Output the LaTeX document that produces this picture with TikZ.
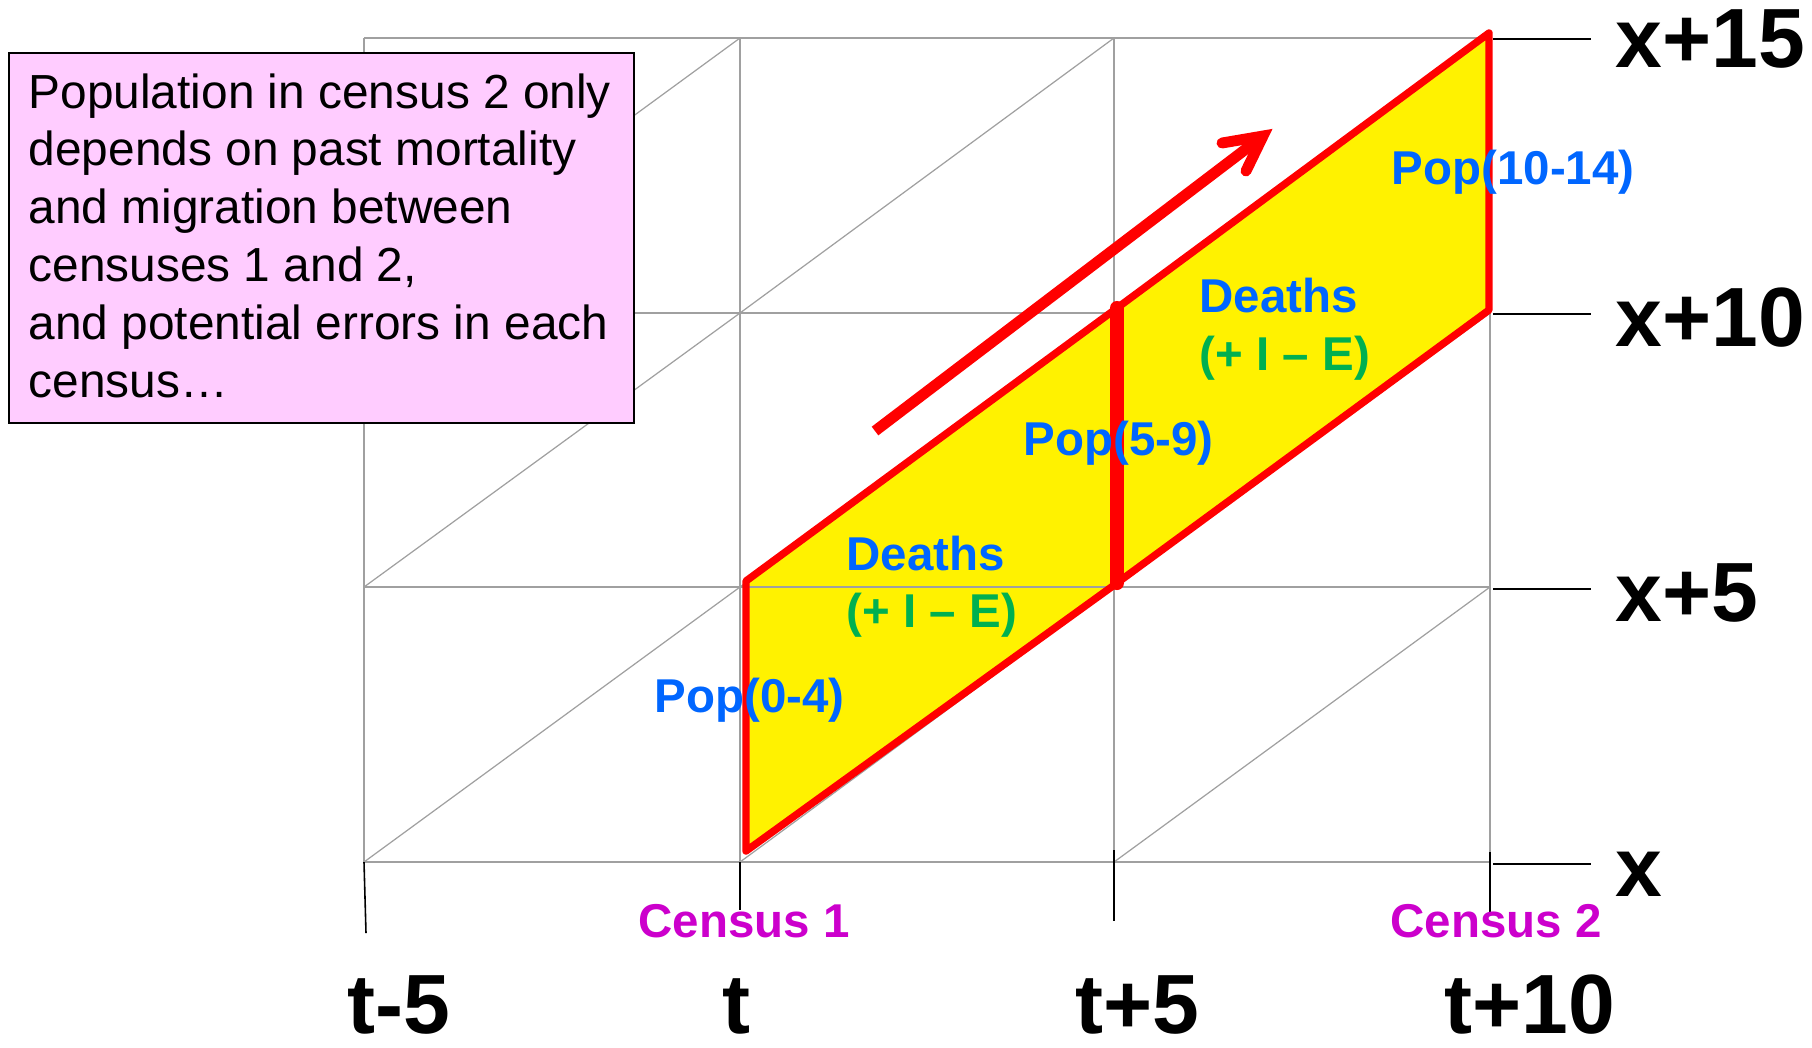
\documentclass[tikz,border=0pt]{standalone}
\usepackage{fontspec}
\setmainfont{Liberation Sans}
\definecolor{gridgray}{HTML}{A0A0A0}
\definecolor{popblue}{HTML}{0066FF}
\definecolor{iegreen}{HTML}{00B050}
\definecolor{censmag}{HTML}{CC00CC}
\definecolor{boxpink}{HTML}{FFCCFF}
\begin{document}
\begin{tikzpicture}[x=0.01cm,y=-0.01cm,
  gridl/.style={draw=gridgray, line width=0.45pt},
  diagl/.style={draw=gridgray, line width=0.35pt},
  tickl/.style={draw=black, line width=0.45pt},
  lab/.style={anchor=base west, inner sep=0pt, font=\fontsize{13.5pt}{16pt}\selectfont\bfseries},
  big/.style={anchor=base west, inner sep=0pt, font=\fontsize{23.9pt}{28pt}\selectfont\bfseries},
  redline/.style={draw=red, line width=2.1pt, line join=round},
  arrowline/.style={draw=red, line width=3.1pt}]
\useasboundingbox (0,0) rectangle (1812,1047);
% grid
\foreach \r in {38,313,587,862} \draw[gridl] (364,\r) -- (1490,\r);
\foreach \c in {364,740,1114,1490} \draw[gridl] (\c,38) -- (\c,862);
\foreach \ca/\cb in {364/740,740/1114,1114/1490}
  \foreach \ra/\rb in {313/38,587/313,862/587}
    \draw[diagl] (\ca,\ra) -- (\cb,\rb);
% ticks
\draw[tickl] (364,862) -- (366,933);
\draw[tickl] (740,862) -- (740,910);
\draw[tickl] (1114,850) -- (1114,921);
\draw[tickl, line width=0.6pt] (1490,852) -- (1490,912);
\foreach \r in {39,314,589,864} \draw[tickl] (1493,\r) -- (1591,\r);
% cohort parallelograms
\coordinate (A) at (746,851);
\coordinate (B) at (1117,583);
\coordinate (C) at (1489,310);
\coordinate (D) at (1489,33);
\coordinate (E) at (1117,308);
\coordinate (F) at (746,581);
\fill[yellow] (A) -- (B) -- (C) -- (D) -- (E) -- (F) -- cycle;
\draw[gridl] (740,587) -- (1114,587);
\draw[redline] (A) -- (B) -- (C) -- (D) -- (E) -- (F) -- cycle;
\draw[draw=red, line width=4pt, line cap=round] (E) -- (B);
% arrow
\coordinate (arrS) at (875,431);
\coordinate (arrT) at (1263,136);
\coordinate (arrA1) at (1222,143);
\coordinate (arrA2) at (1246,171);
\draw[arrowline] (arrS) -- (arrT);
\draw[arrowline, line cap=round, line join=miter] (arrA1) -- (arrT) -- (arrA2);
% text box
\node[draw=black, fill=boxpink, line width=0.6pt, minimum width=6.25cm, minimum height=3.70cm, anchor=north west, inner sep=0pt] (box) at (8,52) {};
\node[anchor=base west, inner sep=0pt] (boxtext) at (28,108) {\parbox[t]{6cm}{\raggedright\fontsize{13.6pt}{16.44pt}\selectfont Population in census 2 only\\depends on past mortality\\and migration between\\censuses 1 and 2,\\and potential errors in each\\census…}};
% labels
\node[lab, text=popblue] (pop04) at (654,712) {Pop(0-4)};
\node[lab, text=popblue] (deaths1) at (846,570) {Deaths};
\node[lab, text=iegreen] (ie1) at (846,627) {(+ I – E)};
\node[lab, text=popblue] (pop59) at (1023,455) {Pop(5-9)};
\node[lab, text=popblue] (deaths2) at (1199,312) {Deaths};
\node[lab, text=iegreen] (ie2) at (1199,370) {(+ I – E)};
\node[lab, text=popblue] (pop1014) at (1391,184) {Pop(10-14)};
\node[lab, text=censmag] (census1) at (638,937) {Census 1};
\node[lab, text=censmag] (census2) at (1390,937) {Census 2};
% axis labels
\node[big] (x15) at (1615,67) {x+15};
\node[big] (x10) at (1615,346) {x+10};
\node[big] (x5) at (1615,621) {x+5};
\node[big] (x0) at (1615,896) {x};
\node[big] (tm5) at (347,1033) {t-5};
\node[big] (t0) at (722,1033) {t};
\node[big] (tp5) at (1075,1033) {t+5};
\node[big] (tp10) at (1444,1033) {t+10};
\end{tikzpicture}
\end{document}
